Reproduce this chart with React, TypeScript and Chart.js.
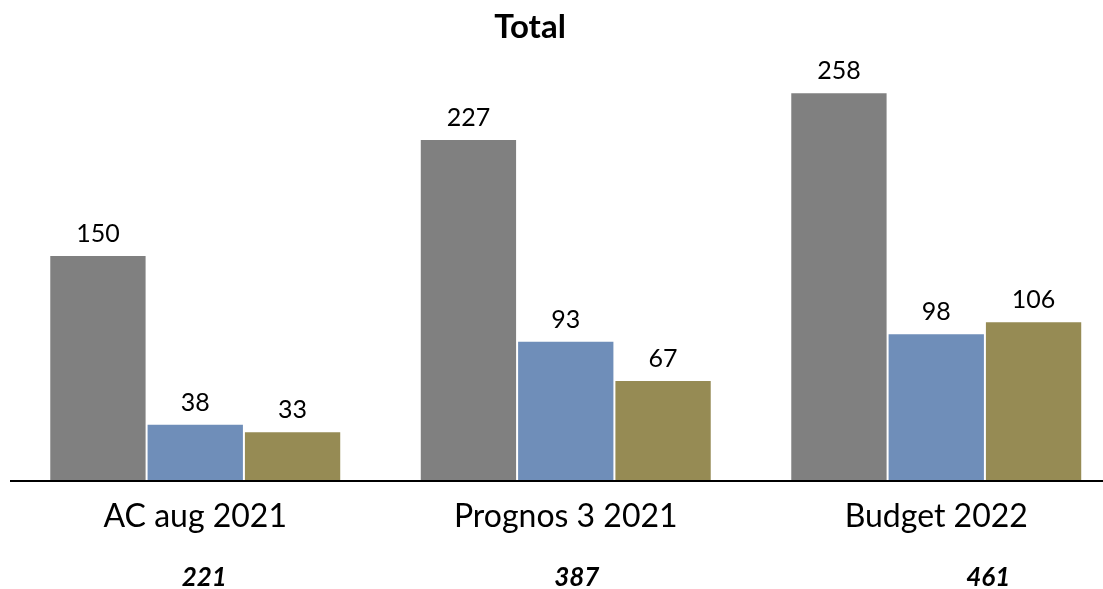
import React, { useEffect, useRef } from "react";
import { Chart, registerables } from "chart.js";

Chart.register(...registerables);

const categories = ["AC aug 2021", "Prognos 3 2021", "Budget 2022"];
const seriesA = [150, 227, 258];
const seriesB = [38, 93, 98];
const seriesC = [33, 67, 106];
const totals = ["221", "387", "461"];
const titleText = "Total";

const FONT = "Lato, 'Open Sans', sans-serif";
const totalOffsets = [9, 11, 52];

const labelsPlugin = {
  id: "customLabels",
  afterDatasetsDraw(chart: any) {
    const ctx = chart.ctx;
    ctx.save();
    ctx.fillStyle = "#000";
    ctx.font = `25px ${FONT}`;
    ctx.textAlign = "center";
    ctx.textBaseline = "alphabetic";
    chart.data.datasets.forEach((ds: any, di: number) => {
      const meta = chart.getDatasetMeta(di);
      meta.data.forEach((bar: any, i: number) => {
        ctx.fillText(String(ds.data[i]), bar.x, bar.y - 13);
      });
    });
    ctx.restore();
  },
  afterDraw(chart: any) {
    const ctx = chart.ctx;
    const xs = chart.scales.x;
    const ys = chart.scales.y;
    const base = ys.getPixelForValue(0);
    ctx.save();
    ctx.strokeStyle = "#000";
    ctx.lineWidth = 2;
    ctx.beginPath();
    ctx.moveTo(chart.chartArea.left, base);
    ctx.lineTo(chart.width, base);
    ctx.stroke();
    ctx.fillStyle = "#000";
    ctx.textAlign = "center";
    ctx.textBaseline = "alphabetic";
    ctx.font = `bold 33px ${FONT}`;
    ctx.fillText(titleText, 530, 38);
    ctx.font = `32px ${FONT}`;
    categories.forEach((c, i) => {
      ctx.fillText(c, xs.getPixelForValue(i), base + 46);
    });
    ctx.font = `italic bold 26px ${FONT}`;
    totals.forEach((t, i) => {
      ctx.fillText(t, xs.getPixelForValue(i) + totalOffsets[i], base + 105);
    });
    ctx.restore();
  },
};

export default function App() {
  const ref = useRef<HTMLCanvasElement>(null);
  useEffect(() => {
    if (!ref.current) return;
    const chart = new Chart(ref.current, {
      type: "bar",
      data: {
        labels: categories,
        datasets: [
          { label: "A", data: seriesA, backgroundColor: "#808080" },
          { label: "B", data: seriesB, backgroundColor: "#6F8EB9" },
          { label: "C", data: seriesC, backgroundColor: "#968B54" },
        ].map((d) => ({
          ...d,
          borderColor: "rgba(255,255,255,0.3)",
          borderWidth: 1,
          categoryPercentage: 0.788,
          barPercentage: 1,
        })),
      },
      options: {
        responsive: false,
        animation: false,
        devicePixelRatio: 1,
        layout: { padding: { left: 10, right: 8.5, top: 59, bottom: 108 } },
        plugins: { legend: { display: false }, title: { display: false }, tooltip: { enabled: false } },
        scales: {
          x: { display: false },
          y: { display: false, min: 0, max: 280 },
        },
      },
      plugins: [labelsPlugin],
    });
    return () => chart.destroy();
  }, []);
  return (
    <div style={{ position: "fixed", left: 0, top: 0, width: 1103, height: 589, overflow: "hidden", background: "#fff" }}>
      <canvas ref={ref} width={1130} height={589} style={{ display: "block" }} />
    </div>
  );
}
